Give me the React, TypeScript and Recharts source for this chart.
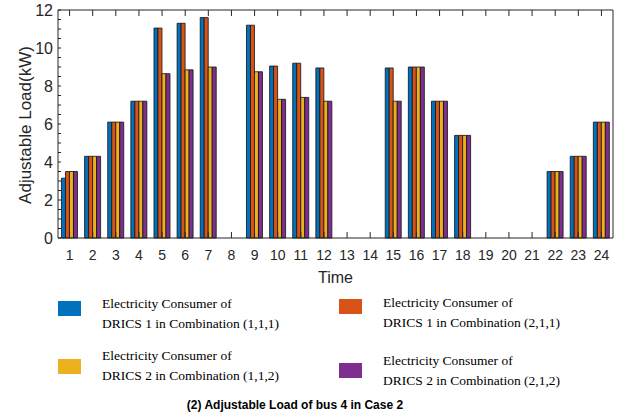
import { BarChart, Bar, XAxis, YAxis } from 'recharts';

const times = ['1', '2', '3', '4', '5', '6', '7', '8', '9', '10', '11', '12', '13', '14', '15', '16', '17', '18', '19', '20', '21', '22', '23', '24'];
const drics1Comb111 = [3.15, 4.3, 6.1, 7.2, 11.05, 11.3, 11.6, 0, 11.2, 9.05, 9.2, 8.95, 0, 0, 8.95, 9.0, 7.2, 5.4, 0, 0, 0, 3.5, 4.3, 6.1];
const drics1Comb211 = [3.5, 4.3, 6.1, 7.2, 11.05, 11.3, 11.6, 0, 11.2, 9.05, 9.2, 8.95, 0, 0, 8.95, 9.0, 7.2, 5.4, 0, 0, 0, 3.5, 4.3, 6.1];
const drics2Comb112 = [3.5, 4.3, 6.1, 7.2, 8.65, 8.85, 9.0, 0, 8.75, 7.3, 7.4, 7.2, 0, 0, 7.2, 9.0, 7.2, 5.4, 0, 0, 0, 3.5, 4.3, 6.1];
const drics2Comb212 = [3.5, 4.3, 6.1, 7.2, 8.65, 8.85, 9.0, 0, 8.75, 7.3, 7.4, 7.2, 0, 0, 7.2, 9.0, 7.2, 5.4, 0, 0, 0, 3.5, 4.3, 6.1];
const yTicks = [0, 0.5, 1, 1.5, 2, 2.5, 3, 3.5, 4, 4.5, 5, 5.5, 6, 6.5, 7, 7.5, 8, 8.5, 9, 9.5, 10, 10.5, 11, 11.5, 12];

const legendItems = [
  { color: '#0072BD', line1: 'Electricity Consumer of', line2: 'DRICS 1 in Combination (1,1,1)', left: 58, top: 301, textTop: 294 },
  { color: '#D95319', line1: 'Electricity Consumer of', line2: 'DRICS 1 in Combination (2,1,1)', left: 339, top: 299, textTop: 293 },
  { color: '#EDB120', line1: 'Electricity Consumer of', line2: 'DRICS 2 in Combination (1,1,2)', left: 58, top: 359, textTop: 346 },
  { color: '#7E2F8E', line1: 'Electricity Consumer of', line2: 'DRICS 2 in Combination (2,1,2)', left: 339, top: 363, textTop: 351 },
];

const data = times.map((t, i) => ({
  time: t,
  a: drics1Comb111[i],
  b: drics1Comb211[i],
  c: drics2Comb112[i],
  d: drics2Comb212[i],
}));

const axisText = '#262626';
const sans = '"Liberation Sans", Arial, sans-serif';

const BottomTick = (props: any) => {
  const { x, y, payload } = props;
  return (
    <g>
      <line x1={x} y1={y} x2={x} y2={y - 6} stroke={axisText} strokeWidth={1} />
      <text x={x} y={y + 22} textAnchor="middle" fill={axisText} fontSize={14} fontFamily={sans}>{payload.value}</text>
    </g>
  );
};

const TopTick = (props: any) => {
  const { x, y } = props;
  return <line x1={x} y1={y} x2={x} y2={y + 6} stroke={axisText} strokeWidth={1} />;
};

const LeftTick = (props: any) => {
  const { x, y, payload } = props;
  const v = payload.value;
  return (
    <g>
      <line x1={x} y1={y} x2={x + 3} y2={y} stroke={axisText} strokeWidth={1} />
      {v % 2 === 0 && (
        <text x={x - 5} y={y + 6} textAnchor="end" fill={axisText} fontSize={16} fontFamily={sans}>{v}</text>
      )}
    </g>
  );
};

const RightTick = (props: any) => {
  const { x, y } = props;
  return <line x1={x} y1={y} x2={x - 3} y2={y} stroke={axisText} strokeWidth={1} />;
};

export default function App() {
  return (
    <div style={{ position: 'absolute', left: 0, top: 0, width: 629, height: 420, background: '#fff' }}>
      <BarChart
        width={629}
        height={290}
        data={data}
        margin={{ top: 9, right: 15, left: 0, bottom: 0 }}
        barCategoryGap="15%"
        barGap={0}
      >
        <XAxis
          dataKey="time"
          interval={0}
          tickLine={false}
          tickSize={0}
          tickMargin={0}
          tick={<BottomTick />}
          height={52}
          stroke={axisText}
          label={{ value: 'Time', position: 'insideBottom', offset: 7, fill: axisText, fontSize: 16, fontFamily: sans }}
        />
        <XAxis
          xAxisId="top"
          dataKey="time"
          orientation="top"
          interval={0}
          tickLine={false}
          tickSize={0}
          tickMargin={0}
          tick={<TopTick />}
          height={1}
          stroke={axisText}
        />
        <YAxis
          domain={[0, 12]}
          ticks={yTicks}
          interval={0}
          tickLine={false}
          tickSize={0}
          tickMargin={0}
          tick={<LeftTick />}
          width={58}
          stroke={axisText}
        />
        <YAxis
          yAxisId="right"
          orientation="right"
          domain={[0, 12]}
          ticks={yTicks}
          interval={0}
          tickLine={false}
          tickSize={0}
          tickMargin={0}
          tick={<RightTick />}
          width={1}
          stroke={axisText}
        />
        <Bar dataKey="a" fill="#0072BD" stroke="#111" strokeWidth={0.8} isAnimationActive={false} />
        <Bar dataKey="b" fill="#D95319" stroke="#111" strokeWidth={0.8} isAnimationActive={false} />
        <Bar dataKey="c" fill="#EDB120" stroke="#111" strokeWidth={0.8} isAnimationActive={false} />
        <Bar dataKey="d" fill="#7E2F8E" stroke="#111" strokeWidth={0.8} isAnimationActive={false} />
      </BarChart>
      <div
        style={{
          position: 'absolute',
          left: 26,
          top: 125,
          transform: 'translate(-50%, -50%) rotate(-90deg)',
          whiteSpace: 'nowrap',
          fontFamily: sans,
          fontSize: 17,
          color: axisText,
        }}
      >
        Adjustable Load(kW)
      </div>
      {legendItems.map((item) => (
        <div key={item.line2}>
          <div style={{ position: 'absolute', left: item.left, top: item.top, width: 23, height: 15, background: item.color }} />
          <div
            style={{
              position: 'absolute',
              left: item.left + 44,
              top: item.textTop,
              fontFamily: '"Liberation Serif", "Times New Roman", serif',
              fontSize: 13.5,
              lineHeight: '20px',
              color: '#000',
              whiteSpace: 'nowrap',
            }}
          >
            <div>{item.line1}</div>
            <div>{item.line2}</div>
          </div>
        </div>
      ))}
      <div
        style={{
          position: 'absolute',
          left: 0,
          width: 590,
          top: 398,
          textAlign: 'center',
          fontFamily: sans,
          fontWeight: 'bold',
          fontSize: 12,
          color: '#000',
        }}
      >
        (2) Adjustable Load of bus 4 in Case 2
      </div>
    </div>
  );
}
